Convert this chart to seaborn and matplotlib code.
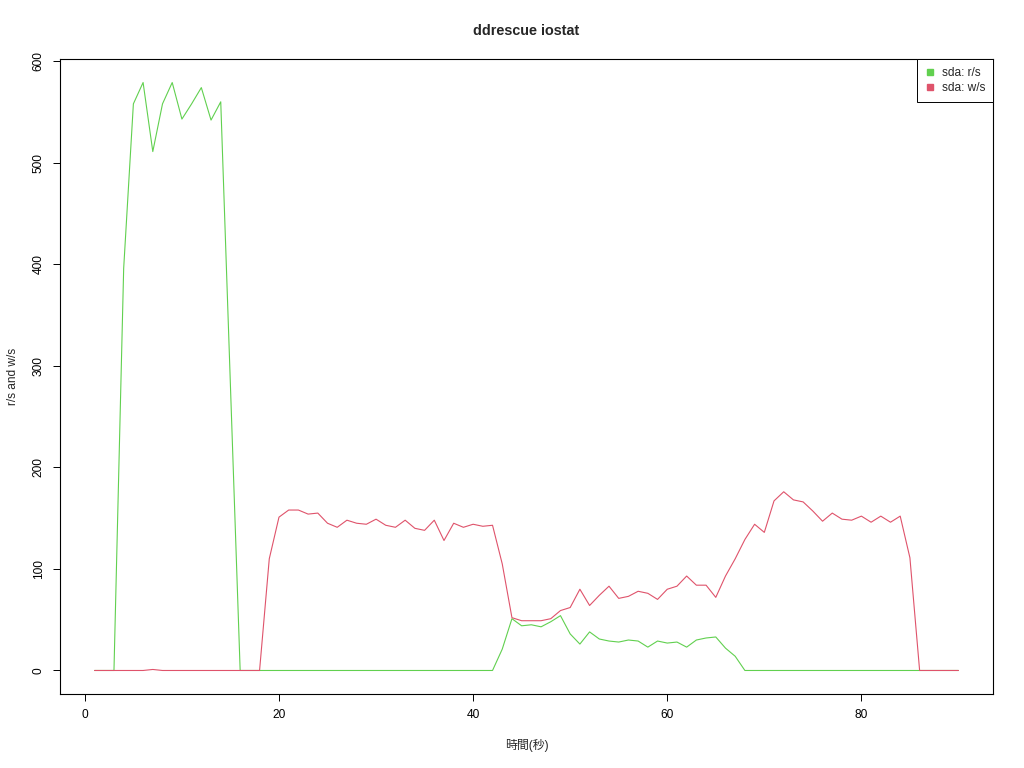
import pandas as pd
import numpy as np
import seaborn as sns
import matplotlib.pyplot as plt
from matplotlib.lines import Line2D

# iostat samples, one per second
seconds = list(range(1, 91))
read_per_s = [0, 0, 0, 396, 558, 579, 511, 558, 579, 543,
              558, 574, 542, 560, 280, 0, 0, 0, 0, 0,
              0, 0, 0, 0, 0, 0, 0, 0, 0, 0,
              0, 0, 0, 0, 0, 0, 0, 0, 0, 0,
              0, 0, 21, 51, 44, 45, 43, 48, 54, 36,
              26, 38, 31, 29, 28, 30, 29, 23, 29, 27,
              28, 23, 30, 32, 33, 22, 14, 0, 0, 0,
              0, 0, 0, 0, 0, 0, 0, 0, 0, 0,
              0, 0, 0, 0, 0, 0, 0, 0, 0, 0]
write_per_s = [0, 0, 0, 0, 0, 0, 1, 0, 0, 0,
               0, 0, 0, 0, 0, 0, 0, 0, 110, 151,
               158, 158, 154, 155, 145, 141, 148, 145, 144, 149,
               143, 141, 148, 140, 138, 148, 128, 145, 141, 144,
               142, 143, 105, 52, 49, 49, 49, 51, 59, 62,
               80, 64, 74, 83, 71, 73, 78, 76, 70, 80,
               83, 93, 84, 84, 72, 93, 110, 129, 144, 136,
               167, 176, 168, 166, 157, 147, 155, 149, 148, 152,
               146, 152, 146, 152, 111, 0, 0, 0, 0, 0]
series_names = ["sda: r/s", "sda: w/s"]
series_colors = ["#61D04F", "#DF536B"]
x_ticks = [0, 20, 40, 60, 80]
y_ticks = [0, 100, 200, 300, 400, 500, 600]

df = pd.concat([
    pd.DataFrame({"sec": seconds, "value": read_per_s, "series": series_names[0]}),
    pd.DataFrame({"sec": seconds, "value": write_per_s, "series": series_names[1]}),
])

sns.set_style("white")
plt.rcParams["font.family"] = ["Liberation Sans", "Noto Sans CJK JP", "DejaVu Sans"]

fig = plt.figure(figsize=(10.24, 7.68), dpi=100)
ax = fig.add_axes([60 / 1024, 74 / 768, 933 / 1024, 635 / 768])

sns.lineplot(data=df, x="sec", y="value", hue="series",
             hue_order=series_names, palette=series_colors,
             linewidth=0.8, legend=False, ax=ax)

# R-style padding: 4% on each side
xr = max(seconds) - min(seconds)
ax.set_xlim(min(seconds) - 0.04 * xr, max(seconds) + 0.04 * xr)
yr = max(max(read_per_s), max(write_per_s))
ax.set_ylim(-0.04 * yr, yr * 1.04)

ax.set_xticks(x_ticks)
ax.set_yticks(y_ticks)
ax.tick_params(axis="both", direction="out", length=5, width=0.7,
               labelsize=8.6, colors="black", bottom=True, left=True)
ax.tick_params(axis="x", pad=6)
ax.tick_params(axis="y", pad=6)
for lbl in ax.get_yticklabels():
    lbl.set_rotation(90)
    lbl.set_va("center")

for sp in ax.spines.values():
    sp.set_color("black")
    sp.set_linewidth(0.8)

ax.set_xlabel("時間(秒)", fontsize=8.6, labelpad=13)
ax.set_ylabel("r/s and w/s", fontsize=8.6, labelpad=10)
ax.set_title("ddrescue iostat", fontsize=10.4, fontweight="bold", pad=17)

handles = [Line2D([], [], marker="s", linestyle="none", color=c, markersize=4.5)
           for c in series_colors]
leg = ax.legend(handles, series_names, loc="upper right", borderaxespad=0,
                fancybox=False, framealpha=1, edgecolor="black",
                fontsize=8.6, handlelength=0.8, handletextpad=0.6,
                labelspacing=0.25, borderpad=0.65)
leg.get_frame().set_linewidth(0.7)

fig.savefig("out.png", dpi=100)
